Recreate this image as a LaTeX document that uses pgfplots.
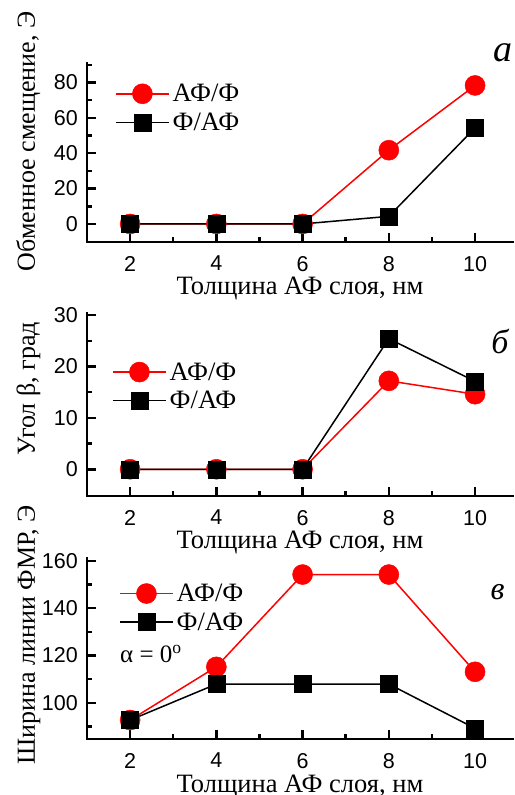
\documentclass[border=0pt]{standalone}
\usepackage{fontspec}
\setmainfont{Liberation Serif}
\newfontfamily\sansf{Liberation Sans}
\usepackage{pgfplots}
\pgfplotsset{compat=1.18}
\pgfplotsset{
  panel/.style={
    scale only axis, width=426pt,
    xmin=1, xmax=10.88,
    axis x line*=bottom, axis y line*=left,
    axis line style={line width=2.7pt, line cap=rect},
    tick align=inside,
    major tick length=9pt, minor tick length=5pt,
    tick style={black, line width=2.5pt},
    xtick={2,4,6,8,10}, minor xtick={3,5,7,9},
    /pgf/number format/assume math mode=true,
    tick label style={font=\fontsize{21.5}{24}\selectfont\sansf},
    xticklabel style={inner sep=0pt, anchor=north, yshift=-14pt},
    yticklabel style={inner sep=0pt, anchor=east, xshift=-9pt},
    xlabel={Толщина АФ слоя, нм},
    every axis x label/.style={at={(axis description cs:0.5,0)}, anchor=base, yshift=-53pt, font=\fontsize{26.5}{30}\selectfont},
    clip=false,
    legend cell align=left,
    legend style={draw=none, fill=none, inner sep=0pt, row sep=9pt, column sep=3pt,
      nodes={inner sep=0pt}, font=\fontsize{26.5}{30}\selectfont, anchor=north west},
    legend image code/.code={\draw[#1, mark repeat=2, mark phase=2] plot coordinates {(0pt,0pt) (26.5pt,0pt) (53pt,0pt)};},
  },
  redser/.style={red, line width=1.5pt, mark=*, mark size=10pt, mark options={solid, fill=red, draw=red, line width=0.5pt}},
  blkser/.style={black, line width=1.5pt, mark=square*, mark size=8.5pt, mark options={solid, fill=black, draw=black, line width=0.5pt}},
}
\begin{document}
\begin{tikzpicture}
\useasboundingbox (0pt,0pt) rectangle (514pt,795pt);
% panel a
\begin{axis}[panel, at={(87pt,553pt)}, anchor=south west, height=179pt,
  ymin=-10.2, ymax=91, ytick={0,20,40,60,80}, minor ytick={10,30,50,70,90},
  ylabel={Обменное смещение, Э},
  every axis y label/.style={at={(axis description cs:-0.1221,0.561)}, rotate=90, anchor=base, font=\fontsize{26}{30}\selectfont},
  legend style={at={(axis description cs:0.0657,0.885)}}]
\addplot[redser] coordinates {(2,0) (4,0) (6,0) (8,41.7) (10,78.3)};
\addlegendentry{АФ/Ф}
\addplot[blkser] coordinates {(2,0) (4,0) (6,0) (8,4.3) (10,54.3)};
\addlegendentry{Ф/АФ}
\node[font=\fontsize{38}{40}\selectfont\itshape, anchor=base west] at (rel axis cs:0.945,1.006) {а};
\end{axis}
% panel b
\begin{axis}[panel, at={(87pt,299pt)}, anchor=south west, height=183pt,
  ymin=-5.2, ymax=30.4, ytick={0,10,20,30}, minor ytick={5,15,25},
  ylabel={Угол β, град},
  every axis y label/.style={at={(axis description cs:-0.1221,0.587)}, rotate=90, anchor=base, font=\fontsize{26}{30}\selectfont},
  legend style={at={(axis description cs:0.0587,0.733)}}]
\addplot[redser] coordinates {(2,0) (4,0) (6,0) (8,17.2) (10,14.6)};
\addlegendentry{АФ/Ф}
\addplot[blkser] coordinates {(2,0) (4,0) (6,0) (8,25.4) (10,17.1)};
\addlegendentry{Ф/АФ}
\node[font=\fontsize{34}{36}\selectfont\itshape, anchor=base west] at (rel axis cs:0.941,0.781) {б};
\end{axis}
% panel c
\begin{axis}[panel, at={(87pt,56pt)}, anchor=south west, height=181pt,
  ymin=84.7, ymax=161.2, ytick={100,120,140,160}, minor ytick={90,110,130,150},
  ylabel={Ширина линии ФМР, Э},
  every axis y label/.style={at={(axis description cs:-0.1221,0.575)}, rotate=90, anchor=base, font=\fontsize{26}{30}\selectfont},
  legend style={at={(axis description cs:0.0751,0.86)}}]
\addplot[redser] coordinates {(2,92.7) (4,115.2) (6,154.2) (8,154.2) (10,113.1)};
\addlegendentry{АФ/Ф}
\addplot[blkser] coordinates {(2,92.7) (4,107.9) (6,107.9) (8,107.9) (10,89.2)};
\addlegendentry{Ф/АФ}
\node[font=\fontsize{32}{34}\selectfont\itshape, anchor=base west] at (rel axis cs:0.939,0.768) {в};
\node[font=\fontsize{25}{28}\selectfont, anchor=base west, inner sep=0pt] at (rel axis cs:0.0775,0.425) {α = 0\textsuperscript{o}};
\end{axis}
\end{tikzpicture}
\end{document}
